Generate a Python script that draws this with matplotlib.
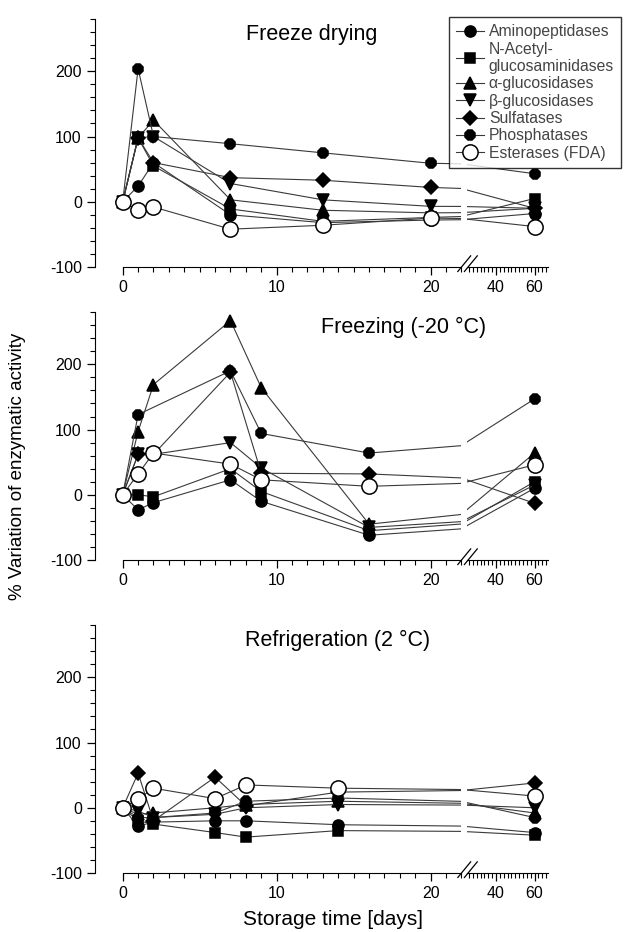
import numpy as np
import matplotlib
matplotlib.use("Agg")
import matplotlib.pyplot as plt
from matplotlib.ticker import MultipleLocator, FixedLocator

plt.rcParams['font.family'] = ['Liberation Sans', 'DejaVu Sans']
plt.rcParams['axes.unicode_minus'] = False

names = ["Aminopeptidases", "N-Acetyl-\nglucosaminidases", "α-glucosidases",
         "β-glucosidases", "Sulfatases", "Phosphatases", "Esterases (FDA)"]
markers = ['o', 's', '^', 'v', 'D', '8', 'o']
sizes = [8, 7, 8, 8, 7, 8, 11]

nan = np.nan

# Freeze drying
fd_days = [0, 1, 2, 7, 13, 20, 60]
fd_amino = [0, 24, 60, -20, -32, -28, -18]
fd_nacetyl = [0, 98, 55, -11, -30, -24, 5]
fd_alpha = [0, 98, 125, 3, -13, -17, -10]
fd_beta = [0, 98, 100, 28, 3, -7, -10]
fd_sulf = [0, 98, 60, 37, 33, 22, -10]
fd_phos = [0, 204, 100, 89, 75, 59, 43]
fd_ester = [0, -13, -8, -42, -36, -25, -38]

# Freezing (-20 °C)
fz_days = [0, 1, 2, 7, 9, 16, 60]
fz_amino = [0, -23, -12, 23, -10, -62, 10]
fz_nacetyl = [0, 0, -3, 40, 5, -55, 20]
fz_alpha = [0, 97, 169, 267, 164, -45, 64]
fz_beta = [0, 62, 62, 80, 41, -50, 15]
fz_sulf = [0, 62, 62, 188, 33, 32, -13]
fz_phos = [0, 123, nan, 190, 94, 64, 147]
fz_ester = [0, 32, 64, 47, 23, 13, 46]

# Refrigeration (2 °C)
rf_days = [0, 1, 2, 6, 8, 14, 60]
rf_amino = [0, -28, -22, -20, -20, -26, -38]
rf_nacetyl = [0, -20, -25, -38, -45, -35, -42]
rf_alpha = [0, -10, -8, 0, 5, 10, -8]
rf_beta = [0, -5, -15, -10, 0, 5, 0]
rf_sulf = [0, 53, -20, 47, 3, 24, 38]
rf_phos = [0, -15, -15, -8, 10, 15, -15]
rf_ester = [0, 13, 30, 14, 35, 30, 18]

panels = [
    ("Freeze drying", fd_days, [fd_amino, fd_nacetyl, fd_alpha, fd_beta, fd_sulf, fd_phos, fd_ester], 0.7135, 0.495),
    ("Freezing (-20 °C)", fz_days, [fz_amino, fz_nacetyl, fz_alpha, fz_beta, fz_sulf, fz_phos, fz_ester], 0.3991, 0.642),
    ("Refrigeration (2 °C)", rf_days, [rf_amino, rf_nacetyl, rf_alpha, rf_beta, rf_sulf, rf_phos, rf_ester], 0.0633, 0.537),
]

fig = plt.figure(figsize=(6.29, 9.32), dpi=100)
lc = '#3a3a3a'
handles = None

for title, days, series, bottom, tx in panels:
    axl = fig.add_axes([0.151, bottom, 0.5827, 0.266])
    axr = fig.add_axes([0.7425, bottom, 0.1288, 0.266])
    for ax in (axl, axr):
        hs = []
        for vals, m, ms in zip(series, markers, sizes):
            d = np.array(days, dtype=float)
            v = np.array(vals, dtype=float)
            ok = ~np.isnan(v)
            face = 'white' if ms > 10 else 'black'
            h, = ax.plot(d[ok], v[ok], '-', color=lc, lw=0.8, marker=m, ms=ms,
                         mfc=face, mec='black', mew=1.1)
            hs.append(h)
        ax.set_ylim(-100, 280)
        ax.spines['top'].set_visible(False)
        ax.spines['right'].set_visible(False)
        ax.patch.set_visible(False)
        ax.tick_params(direction='out', labelsize=11.5, width=0.9)
        ax.tick_params(which='minor', direction='out', length=3.5, width=0.8)
        ax.tick_params(which='major', length=6)
    if handles is None:
        handles = hs

    axl.set_xlim(-1.8, 22)
    axl.spines['bottom'].set_bounds(0, 22)
    axl.xaxis.set_major_locator(FixedLocator([0, 10, 20]))
    axl.xaxis.set_minor_locator(FixedLocator(range(0, 23)))
    axl.yaxis.set_major_locator(FixedLocator([-100, 0, 100, 200]))
    axl.yaxis.set_minor_locator(MultipleLocator(20))

    axr.set_xlim(25, 67)
    axr.spines['left'].set_visible(False)
    axr.set_yticks([])
    axr.xaxis.set_major_locator(FixedLocator([40, 60]))
    axr.xaxis.set_minor_locator(MultipleLocator(2))

    # break marks
    for dx in (0.0, 0.018):
        axl.plot([0.99 + dx, 1.025 + dx], [-0.018, 0.045], color='black', lw=0.9,
                 transform=axl.transAxes, clip_on=False)

    fig.text(tx, bottom + 0.266 - 0.005, title, fontsize=15.5, ha='center', va='top')

fig.legend(handles, names, loc='upper right', bbox_to_anchor=(1.0, 0.99),
           fontsize=11.3, frameon=True, fancybox=False, edgecolor='black',
           borderpad=0.45, labelspacing=0.15, handlelength=1.8, handletextpad=0.3,
           labelcolor='#444444')

fig.text(0.028, 0.5, "% Variation of enzymatic activity", rotation=90,
         fontsize=13.5, ha='center', va='center')
fig.text(0.53, 0.003, "Storage time [days]", fontsize=15, ha='center', va='bottom')

fig.savefig("out.png", dpi=100)
